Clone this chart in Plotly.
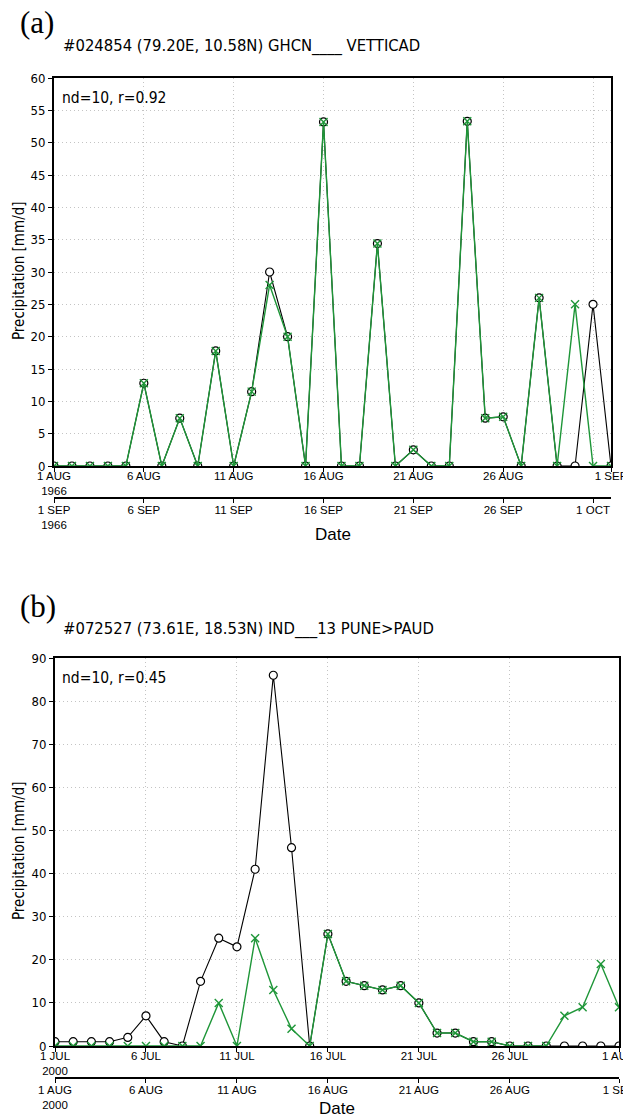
import plotly.graph_objects as go
import pandas as pd

W, H = 623, 1120

# ---------------- data ----------------
# Panel (a): 1 AUG 1966 .. 1 SEP 1966
a_start, a_end = "1966-08-01", "1966-09-01"
a_obs = [0, 0, 0, 0, 0, 12.8, 0, 7.4, 0, 17.8, 0, 11.5, 30, 20, 0, 53.2,
         0, 0, 34.4, 0, 2.5, 0, 0, 53.3, 7.4, 7.6, 0, 26, 0, 0, 25, 0]
a_est = [0, 0, 0, 0, 0, 12.8, 0, 7.4, 0, 17.8, 0, 11.5, 28, 20, 0, 53.2,
         0, 0, 34.4, 0, 2.5, 0, 0, 53.3, 7.4, 7.6, 0, 26, 0, 25, 0, 0]
a_ticks = ["1966-08-01", "1966-08-06", "1966-08-11", "1966-08-16", "1966-08-21", "1966-08-26", "1966-09-01"]
a_ticktext = ["1 AUG<br>1966", "6 AUG", "11 AUG", "16 AUG", "21 AUG", "26 AUG", "1 SEP"]
a2_range = ["1966-09-01", "1966-10-02"]
a2_ticks = ["1966-09-01", "1966-09-06", "1966-09-11", "1966-09-16", "1966-09-21", "1966-09-26", "1966-10-01"]
a2_ticktext = ["1 SEP<br>1966", "6 SEP", "11 SEP", "16 SEP", "21 SEP", "26 SEP", "1 OCT"]
a_yticks = [0, 5, 10, 15, 20, 25, 30, 35, 40, 45, 50, 55, 60]
a_title = "#024854 (79.20E, 10.58N) GHCN____ VETTICAD"
a_stat = "nd=10, r=0.92"

# Panel (b): 1 JUL 2000 .. 1 AUG 2000
b_start, b_end = "2000-07-01", "2000-08-01"
b_obs = [1, 1, 1, 1, 2, 7, 1, 0, 15, 25, 23, 41, 86, 46, 0, 26,
         15, 14, 13, 14, 10, 3, 3, 1, 1, 0, 0, 0, 0, 0, 0, 0]
b_est = [0, 0, 0, 0, 0, 0, 0, 0, 0, 10, 0, 25, 13, 4, 0, 26,
         15, 14, 13, 14, 10, 3, 3, 1, 1, 0, 0, 0, 7, 9, 19, 9]
b_ticks = ["2000-07-01", "2000-07-06", "2000-07-11", "2000-07-16", "2000-07-21", "2000-07-26", "2000-08-01"]
b_ticktext = ["1 JUL<br>2000", "6 JUL", "11 JUL", "16 JUL", "21 JUL", "26 JUL", "1 AUG"]
b2_range = ["2000-08-01", "2000-09-01"]
b2_ticks = ["2000-08-01", "2000-08-06", "2000-08-11", "2000-08-16", "2000-08-21", "2000-08-26", "2000-09-01"]
b2_ticktext = ["1 AUG<br>2000", "6 AUG", "11 AUG", "16 AUG", "21 AUG", "26 AUG", "1 SEP"]
b_yticks = [0, 10, 20, 30, 40, 50, 60, 70, 80, 90]
b_title = "#072527 (73.61E, 18.53N) IND___13 PUNE>PAUD"
b_stat = "nd=10, r=0.45"

y_label = "Precipitation [mm/d]"
x_label = "Date"

a_dates = pd.date_range(a_start, a_end, freq="D")
b_dates = pd.date_range(b_start, b_end, freq="D")

# ---------------- style ----------------
GREEN = "#1e9638"
GRID = "#c4c4c4"
GFONT = "DejaVu Sans Condensed, Liberation Sans Narrow, sans-serif"
AFONT = "Liberation Sans, Arial, sans-serif"
SFONT = "Liberation Serif, Times New Roman, serif"


def px(x):
    return x / W


def py(y):
    return 1 - y / H


fig = go.Figure()


def add_series(dates, obs, est, xa, ya):
    fig.add_trace(go.Scatter(
        x=dates, y=obs, xaxis=xa, yaxis=ya, mode="lines+markers",
        line=dict(color="black", width=1.1),
        marker=dict(symbol="circle", size=8, color="white",
                    line=dict(color="black", width=1.2)),
        showlegend=False, hoverinfo="skip"))
    fig.add_trace(go.Scatter(
        x=dates, y=est, xaxis=xa, yaxis=ya, mode="lines+markers",
        line=dict(color=GREEN, width=1.4),
        marker=dict(symbol="x-thin", size=8, color=GREEN,
                    line=dict(color=GREEN, width=1.4)),
        showlegend=False, hoverinfo="skip"))


add_series(a_dates, a_obs, a_est, "x", "y")
add_series(b_dates, b_obs, b_est, "x2", "y2")
# empty traces so the secondary date axes are rendered
fig.add_trace(go.Scatter(x=[], y=[], xaxis="x3", yaxis="y", showlegend=False))
fig.add_trace(go.Scatter(x=[], y=[], xaxis="x4", yaxis="y2", showlegend=False))

DOT = "1px,3px"
XTF = dict(family=AFONT, size=11.5, color="black")
common_x = dict(
    type="date", showline=True, mirror=True, linecolor="black", linewidth=2,
    ticks="outside", ticklen=4, tickcolor="black", tickwidth=1,
    tickfont=XTF, ticklabelstandoff=-6, ticklabeloverflow="allow",
    showgrid=True, gridcolor=GRID, griddash=DOT, gridwidth=1,
    zeroline=False, fixedrange=True, automargin=False,
)
common_y = dict(
    showline=True, mirror=True, linecolor="black", linewidth=2,
    ticks="outside", ticklen=4, tickcolor="black", tickwidth=1,
    tickfont=dict(family=GFONT, size=13, color="black"),
    showgrid=True, gridcolor=GRID, griddash=DOT, gridwidth=1,
    zeroline=False, fixedrange=True, automargin=False,
)
sec_x = dict(
    type="date", showline=True, linecolor="black", linewidth=2,
    ticks="outside", ticklen=4, tickcolor="black", tickwidth=1,
    tickfont=XTF, ticklabelstandoff=-3, ticklabeloverflow="allow",
    showgrid=False, zeroline=False, fixedrange=True, side="bottom",
    anchor="free", automargin=False,
)

fig.update_layout(
    template="none",
    width=W, height=H, autosize=False,
    margin=dict(l=0, r=0, t=0, b=0, pad=0),
    paper_bgcolor="white", plot_bgcolor="white",
    showlegend=False,
    xaxis=dict(common_x, domain=[px(54), px(611)], anchor="y",
               range=[a_start, a_end], tickvals=a_ticks, ticktext=a_ticktext,
               minor=dict(tickvals=["1966-08-31"], showgrid=True, gridcolor=GRID,
                          griddash=DOT, ticks="")),
    yaxis=dict(common_y, domain=[py(466), py(78)], anchor="x",
               range=[0, 60], tickvals=a_yticks),
    xaxis2=dict(common_x, domain=[px(55), px(619)], anchor="y2",
                range=[b_start, b_end], tickvals=b_ticks, ticktext=b_ticktext),
    yaxis2=dict(common_y, domain=[py(1046), py(658)], anchor="x2",
                range=[0, 90], tickvals=b_yticks),
    xaxis3=dict(sec_x, overlaying="x", position=py(498),
                range=a2_range, tickvals=a2_ticks, ticktext=a2_ticktext),
    xaxis4=dict(sec_x, overlaying="x2", position=py(1078),
                range=b2_range, tickvals=b2_ticks, ticktext=b2_ticktext),
)

ann = []


def text(x, y, s, font, size, xanchor="left", angle=0):
    ann.append(dict(x=px(x), y=py(y), xref="paper", yref="paper", text=s,
                    showarrow=False, xanchor=xanchor, yanchor="middle",
                    textangle=angle,
                    font=dict(family=font, size=size, color="black")))


text(18, 22, "(a)", SFONT, 31)
text(18, 606, "(b)", SFONT, 31)
text(61, 46, a_title, GFONT, 16.5)
text(61, 629, b_title, GFONT, 16.5)
text(60, 98, a_stat, GFONT, 15.5)
text(60, 678, b_stat, GFONT, 15.5)
text(19, 271, y_label, GFONT, 15, xanchor="center", angle=-90)
text(19, 851, y_label, GFONT, 15, xanchor="center", angle=-90)
text(333, 534, x_label, AFONT, 17, xanchor="center")
text(337, 1108, x_label, AFONT, 17, xanchor="center")
fig.update_layout(annotations=ann)

fig.write_html(
    "out.html",
    config={"displayModeBar": False, "staticPlot": True},
    post_script="document.body.style.margin='0px';",
)
